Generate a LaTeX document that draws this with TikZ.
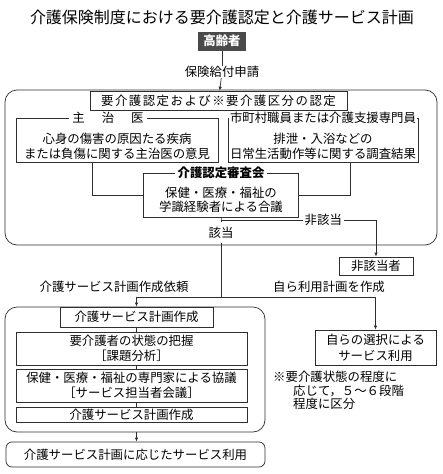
\documentclass[tikz,border=0pt]{standalone}
\usepackage{fontspec}
\setmainfont{Noto Sans CJK JP}
\usepackage{xcolor}
\definecolor{cLine}{HTML}{2E2E2E}
\definecolor{cDark}{HTML}{4A4A4A}
\usepackage{tikz}
\usetikzlibrary{positioning,arrows.meta,calc}
\newcommand\bodyfont{\fontsize{12.4pt}{15pt}\selectfont}
\newcommand\titlefont{\fontsize{16pt}{19pt}\selectfont}
\tikzset{
  node-box/.style={draw=cLine,line width=0.7pt,align=center,inner sep=1pt,
    font=\bodyfont},
  node-round/.style={draw=cLine,line width=0.7pt,rounded corners=12pt,inner sep=0pt},
  node-elder/.style={fill=cDark,text=white,inner sep=1pt,minimum width=48pt,
    minimum height=19pt,font=\bodyfont\bfseries},
  node-title/.style={fill=white,inner xsep=3pt,inner ysep=0pt,font=\bodyfont},
  node-label/.style={fill=white,inner xsep=2pt,inner ysep=1pt,font=\bodyfont},
  node-text/.style={align=center,inner sep=0pt,font=\bodyfont},
  line/.style={draw=cLine,line width=0.7pt},
  arrow/.style={-{Latex[length=4pt,width=3.5pt]},draw=cLine,line width=0.7pt},
}
\begin{document}
\begin{tikzpicture}[x=1pt,y=-1pt]
  \useasboundingbox (0,0) rectangle (443,474);
  \node[font=\titlefont] (title) at (222,17) {介護保険制度における要介護認定と介護サービス計画};
  \node[node-elder] (elder) at (222,41) {高齢者};
  \node[node-text] (apply) at (222,72) {保険給付申請};
  % 認定の枠
  \node[node-round,minimum width=432pt,minimum height=155pt] (outer) at (221,167.5) {};
  \node[node-box,fill=white,minimum width=257pt,minimum height=19pt] (cert) at (218.5,100.5)
    {\addfontfeature{LetterSpace=12}要介護認定および※要介護区分の認定};
  \node[node-box,minimum width=202pt,minimum height=44pt] (doctor) at (117,140) {};
  \node[node-title] (doctor-title) at (108,118) {主\hspace{17pt}治\hspace{17pt}医};
  \node[node-text] (doctor-text) at (117,146) {心身の傷害の原因たる疾病\\または負傷に関する主治医の意見};
  \node[node-box,minimum width=190pt,minimum height=44pt] (survey) at (323,140) {};
  \node[node-title,inner xsep=1pt] (survey-title) at (323,118) {市町村職員または介護支援専門員};
  \node[node-text] (survey-text) at (323,146) {排泄・入浴などの\\日常生活動作等に関する調査結果};
  \node[node-box,minimum width=155pt,minimum height=44pt] (board) at (221,195) {};
  \node[node-title,font=\bodyfont\bfseries] (board-title) at (221,173) {介護認定審査会};
  \node[node-text,font=\fontsize{12.4pt}{14pt}\selectfont] (board-text) at (221,200)
    {保健・医療・福祉の\\学識経験者による合議};
  \coordinate (fork) at (221,220);
  \node[node-label,inner ysep=5pt] (yes) at (221,232.5) {該当};
  \node[node-box,minimum width=74pt,minimum height=18pt] (nonelig) at (376,266) {非該当者};
  % 計画作成
  \coordinate (split) at (221,297);
  \node[node-text] (request) at (114,287) {介護サービス計画作成依頼};
  \node[node-text] (selfplan) at (329,287) {自ら利用計画を作成};
  \node[node-round,minimum width=260pt,minimum height=125pt] (lower) at (135,369.5) {};
  \node[node-box,minimum width=153pt,minimum height=20pt] (plan1) at (136.5,317) {介護サービス計画作成};
  \node[node-box,minimum width=231pt,minimum height=33pt] (assess) at (131.5,348.5)
    {要介護者の状態の把握\\［課題分析］};
  \node[node-box,minimum width=231pt,minimum height=33pt] (confer) at (131.5,385.5)
    {保健・医療・福祉の専門家による協議\\［サービス担当者会議］};
  \node[node-box,inner ysep=0pt,minimum width=231pt,minimum height=15pt] (plan2) at (131.5,414.5)
    {介護サービス計画作成};
  \node[node-box,rounded corners=6pt,minimum width=259pt,minimum height=25pt] (final) at (135.5,454.5)
    {介護サービス計画に応じたサービス利用};
  \node[node-box,minimum width=121pt,minimum height=35pt,
    font=\fontsize{12.4pt}{16pt}\selectfont] (self) at (375.5,347.5) {自らの選択による\\サービス利用};
  \node[node-text,anchor=north west,align=left,font=\fontsize{12.4pt}{13.5pt}\selectfont] (note)
    at (273,371) {※要介護状態の程度に\\\hspace*{20pt}応じて，５～６段階\\\hspace*{20pt}程度に区分};
  % 接続
  \draw[line] (elder) -- (apply);
  \draw[arrow] (apply) -- (cert);
  \draw[line] (doctor.south) ++(-25,0) |- (board.west);
  \draw[line] (survey.south) ++(27,0) |- (board.east);
  \draw[line] (board.south) -- (fork) -- (yes.north);
  \draw[arrow] (fork) -- node[node-label,pos=0.66] (no) {非該当} (fork -| nonelig.north)
    -- (nonelig.north);
  \draw[line] (yes.south) -- (split);
  \draw[arrow] (split) -| (plan1.north);
  \draw[arrow] (split) -| (self.north);
  \draw[line] (plan1.south) -- (plan1.south |- assess.north);
  \draw[line] (plan1.south |- assess.south) -- (plan1.south |- confer.north);
  \draw[line] (plan1.south |- confer.south) -- (plan1.south |- plan2.north);
  \draw[arrow] (plan1.south |- lower.south) -- (plan1.south |- final.north);
\end{tikzpicture}
\end{document}
